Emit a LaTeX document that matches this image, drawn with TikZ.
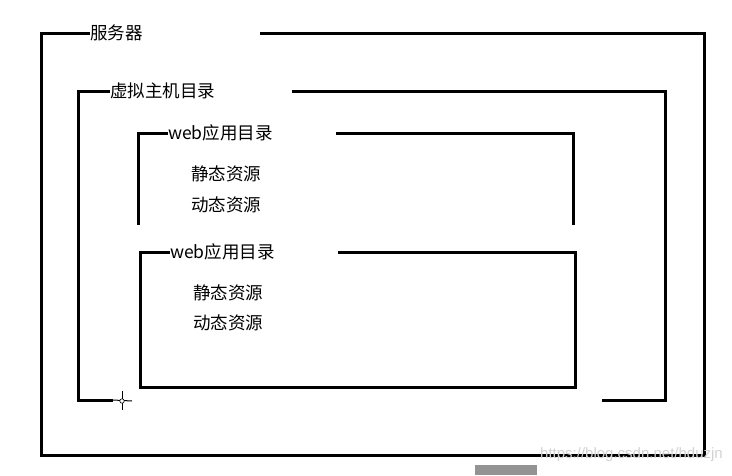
\documentclass[tikz,border=0pt]{standalone}
\usepackage{fontspec}
\setmainfont{Noto Sans CJK SC}
\newfontfamily\wmfont{Liberation Sans}
\usetikzlibrary{positioning, calc}
\tikzstyle{frame} = [line width=3pt, line join=miter]
\tikzstyle{title} = [anchor=west, inner sep=0pt, font=\fontsize{17.5}{17.5}\selectfont]
\tikzstyle{res} = [inner sep=0pt, font=\fontsize{17.5}{17.5}\selectfont]

\begin{document}
\begin{tikzpicture}[x=1pt, y=-1pt]
\useasboundingbox (0,0) rectangle (732,475);
% labels
\node (srv) [title] at (90,33) {服务器};
\node (vhost) [title] at (110,91) {虚拟主机目录};
\node (webA) [title] at (168,133) {web应用目录};
\node (webB) [title] at (170,252) {web应用目录};
\node (staticA) [res] at (226,174) {静态资源};
\node (dynA) [res] at (226,205) {动态资源};
\node (staticB) [res] at (228,293) {静态资源};
\node (dynB) [res] at (228,323) {动态资源};

% server frame
\coordinate (srvend) at (260,33);
\draw [frame] (srv.west) -- (41,33) -- (41,455) -- (704,455) -- (704,33) -- (srvend);

% virtual host frame
\coordinate (vhend) at (292,91);
\coordinate (vhgapL) at (113,400);
\coordinate (vhgapR) at (602,400);
\draw [frame] (vhost.west) -- (78,91) -- (78,400) -- (vhgapL);
\draw [frame] (vhgapR) -- (665,400) -- (665,91) -- (vhend);

% first web app
\coordinate (webAend) at (336,133);
\draw [frame] (webA.west) -- (138,133) -- (138,225);
\draw [frame] (573,225) -- (573,133) -- (webAend);

% second web app
\coordinate (webBend) at (338,252);
\draw [frame] (webB.west) -- (140,252) -- (140,387) -- (575,387) -- (575,252) -- (webBend);

% cursor
\coordinate (cur) at (122,401);
\draw [line width=1pt] (vhgapL) -- ($(cur)+(10,0)$);
\draw [line width=1pt] ($(cur)+(0,-10)$) -- ($(cur)+(0,9)$);
\draw [line width=0.6pt, fill=white] (cur) circle (2.2);

% watermark
\fill [gray!85] (475,465) rectangle (537,475);
\node (mark) [anchor=east, inner sep=0pt, text=gray!35, font=\wmfont\fontsize{15}{15}\selectfont] at (723,455) {https://blog.csdn.net/hduzjn};
\end{tikzpicture}
\end{document}
